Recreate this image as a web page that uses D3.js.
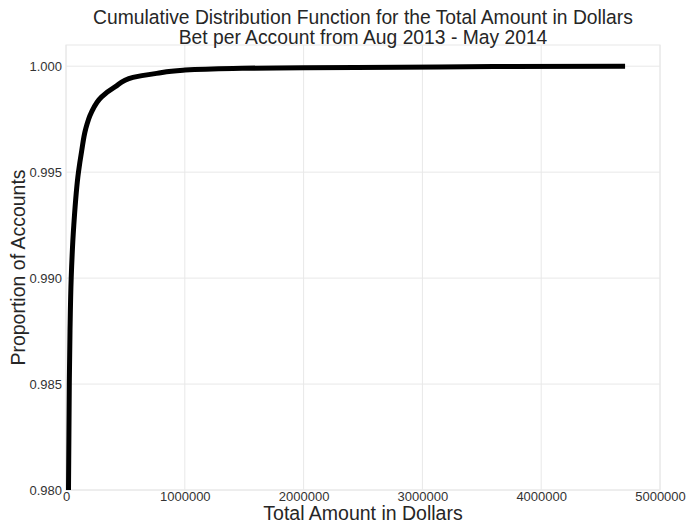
<!DOCTYPE html>
<html lang="en">
<head>
<meta charset="utf-8">
<title>CDF of Total Amount Bet per Account</title>
<script src="https://d3js.org/d3.v7.min.js"></script>
<style>
  body { margin: 0; background: #fff; }
  text { font-family: "Liberation Sans", Arial, sans-serif; }
  .title { font-size: 19.3px; fill: #262626; }
  .label { font-size: 19.5px; fill: #262626; }
  .tick text { font-size: 13px; fill: #333; }
</style>
</head>
<body>
<div id="vis"></div>
<script>
const width = 687, height = 524;
const margin = {top: 45, right: 27, bottom: 34, left: 66};

// amount in dollars, cumulative proportion of accounts
const amounts = [21000, 27800, 33700, 43800, 65700, 105000, 132000, 164000, 212000, 300000, 412000, 564000, 763000, 985000, 1406000, 2000000, 2810000, 3600000, 4706000];
const proportions = [0.980, 0.985, 0.9875, 0.990, 0.9925, 0.995, 0.9960, 0.9970, 0.9978, 0.99855, 0.99902, 0.99947, 0.99966, 0.99981, 0.99989, 0.99993, 0.99995, 0.99998, 1.0];
const xTicks = [0, 1000000, 2000000, 3000000, 4000000, 5000000];
const yTicks = [0.980, 0.985, 0.990, 0.995, 1.000];

const data = amounts.map((a, i) => ({x: a, y: proportions[i]}));

const x = d3.scaleLinear().domain([0, 5000000]).range([margin.left, width - margin.right]);
const y = d3.scaleLinear().domain([0.980, 1.001]).range([height - margin.bottom, margin.top]);

const svg = d3.select("#vis").append("svg")
  .attr("width", width).attr("height", height);

// frame
svg.append("rect")
  .attr("x", margin.left).attr("y", margin.top)
  .attr("width", width - margin.left - margin.right)
  .attr("height", height - margin.top - margin.bottom)
  .attr("fill", "none").attr("stroke", "#e8e8e8");

// grid
svg.append("g").selectAll("line").data(xTicks).enter().append("line")
  .attr("x1", d => x(d)).attr("x2", d => x(d))
  .attr("y1", margin.top).attr("y2", height - margin.bottom)
  .attr("stroke", "#e8e8e8");
svg.append("g").selectAll("line").data(yTicks).enter().append("line")
  .attr("x1", margin.left).attr("x2", width - margin.right)
  .attr("y1", d => y(d)).attr("y2", d => y(d))
  .attr("stroke", "#e8e8e8");

// axes (labels only)
const xAxis = svg.append("g")
  .attr("transform", "translate(0," + (height - margin.bottom) + ")")
  .call(d3.axisBottom(x).tickValues(xTicks).tickFormat(d3.format("d")).tickSize(0).tickPadding(2));
xAxis.select(".domain").remove();

const yAxis = svg.append("g")
  .attr("transform", "translate(" + margin.left + ",0)")
  .call(d3.axisLeft(y).tickValues(yTicks).tickFormat(d3.format(".3f")).tickSize(0).tickPadding(4));
yAxis.select(".domain").remove();

// line
const line = d3.line().x(d => x(d.x)).y(d => y(d.y)).curve(d3.curveMonotoneY);
svg.append("path")
  .datum(data)
  .attr("d", line)
  .attr("fill", "none")
  .attr("stroke", "#000")
  .attr("stroke-width", 5);

// titles
const cx = (margin.left + width - margin.right) / 2;
svg.append("text").attr("class", "title")
  .attr("x", cx).attr("y", 24)
  .attr("text-anchor", "middle")
  .text("Cumulative Distribution Function for the Total Amount in Dollars");
svg.append("text").attr("class", "title")
  .attr("x", cx).attr("y", 44)
  .attr("text-anchor", "middle")
  .text("Bet per Account from Aug 2013 - May 2014");

svg.append("text").attr("class", "label")
  .attr("x", cx).attr("y", 520)
  .attr("text-anchor", "middle")
  .text("Total Amount in Dollars");

svg.append("text").attr("class", "label")
  .attr("transform", "translate(25," + ((margin.top + height - margin.bottom) / 2) + ") rotate(-90)")
  .attr("text-anchor", "middle")
  .text("Proportion of Accounts");
</script>
</body>
</html>
